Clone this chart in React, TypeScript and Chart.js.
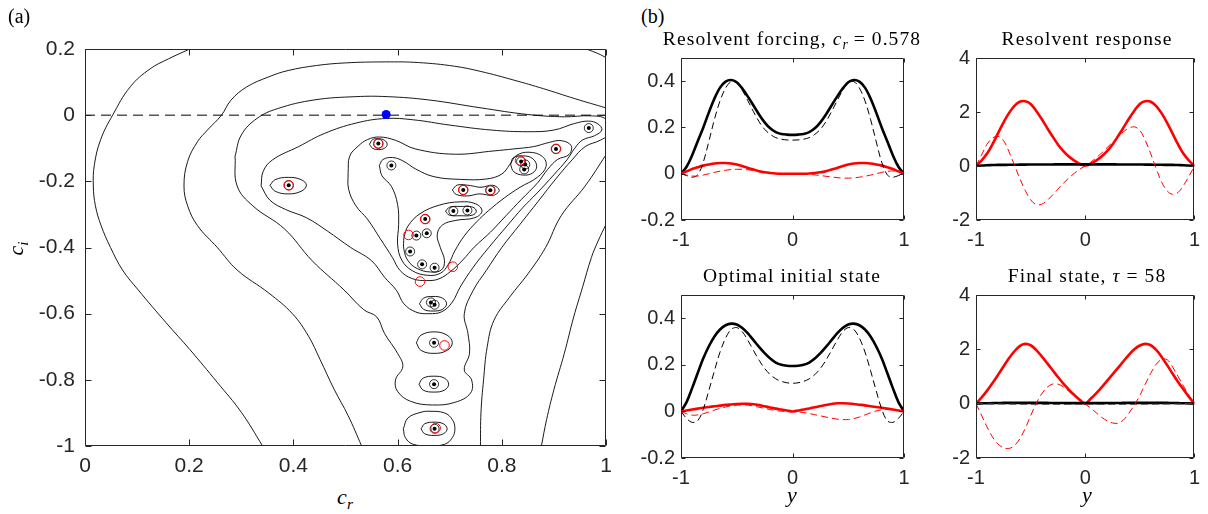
import React, { useEffect, useRef } from 'react';
import { Chart, registerables } from 'chart.js';
Chart.register(...registerables);

type Pt = [number, number];

// ---------- panel (a): pseudospectrum contours ----------
const aXTicks = [0, 0.2, 0.4, 0.6, 0.8, 1];
const aYTicks = [-1, -0.8, -0.6, -0.4, -0.2, 0, 0.2];

const contour1a: Pt[] = [[0.201,0.2],[0.16,0.17],[0.125,0.14],[0.087,0.086],[0.053,0.0],[0.030,-0.074],[0.018,-0.15],[0.016,-0.214],[0.02,-0.274],[0.031,-0.334],[0.049,-0.4],[0.072,-0.468],[0.102,-0.528],[0.156,-0.628],[0.201,-0.708],[0.254,-0.808],[0.300,-0.898],[0.341,-1.0]];
const contour1b: Pt[] = [[0.962,0.2],[0.985,0.186],[1.0,0.174]];
const contour1c: Pt[] = [[1.0,-0.33],[0.985,-0.38],[0.972,-0.43],[0.955,-0.52],[0.938,-0.61],[0.92,-0.72],[0.9,-0.83],[0.886,-0.92],[0.876,-1.0]];
const contour2a: Pt[] = [[1.0,0.022],[0.94,0.05],[0.88,0.08],[0.823,0.106],[0.76,0.132],[0.709,0.148],[0.64,0.159],[0.577,0.161],[0.5,0.158],[0.444,0.15],[0.39,0.135],[0.353,0.116],[0.31,0.085],[0.28,0.045],[0.262,0.0],[0.235,-0.045],[0.216,-0.08],[0.197,-0.14],[0.19,-0.214],[0.197,-0.274],[0.216,-0.334],[0.254,-0.4],[0.292,-0.468],[0.353,-0.538],[0.398,-0.6],[0.429,-0.668],[0.451,-0.738],[0.478,-0.828],[0.505,-0.908],[0.531,-1.0]];
const contour2b: Pt[] = [[1.0,-0.12],[0.96,-0.214],[0.914,-0.304],[0.884,-0.4],[0.85,-0.48],[0.815,-0.55],[0.785,-0.62],[0.772,-0.7],[0.765,-0.8],[0.76,-0.9],[0.759,-1.0]];
const contour3: Pt[] = [[0.288,-0.124],[0.3,-0.06],[0.33,-0.01],[0.37,0.02],[0.44,0.046],[0.52,0.056],[0.58,0.056],[0.66,0.046],[0.76,0.022],[0.85,0.002],[0.92,-0.005],[0.97,-0.002],[1.0,-0.012],[1.01,-0.05],[0.99,-0.075],[0.96,-0.095],[0.935,-0.135],[0.905,-0.19],[0.87,-0.26],[0.835,-0.33],[0.8,-0.4],[0.77,-0.47],[0.745,-0.53],[0.728,-0.6],[0.735,-0.66],[0.738,-0.72],[0.728,-0.77],[0.742,-0.8],[0.74,-0.84],[0.71,-0.868],[0.667,-0.876],[0.625,-0.865],[0.6,-0.835],[0.596,-0.8],[0.61,-0.76],[0.6,-0.72],[0.575,-0.66],[0.56,-0.61],[0.535,-0.588],[0.497,-0.528],[0.436,-0.44],[0.383,-0.344],[0.322,-0.274],[0.292,-0.214],[0.288,-0.124]];
const contour4: Pt[] = [[0.338,-0.214],[0.342,-0.17],[0.36,-0.135],[0.41,-0.095],[0.46,-0.055],[0.52,-0.024],[0.577,-0.01],[0.63,-0.014],[0.7,-0.03],[0.78,-0.045],[0.85,-0.05],[0.9,-0.045],[0.94,-0.025],[0.967,-0.018],[0.985,-0.027],[0.992,-0.045],[0.978,-0.062],[0.955,-0.075],[0.94,-0.1],[0.925,-0.135],[0.9,-0.18],[0.868,-0.235],[0.84,-0.28],[0.81,-0.335],[0.775,-0.4],[0.745,-0.46],[0.72,-0.52],[0.705,-0.565],[0.685,-0.594],[0.66,-0.6],[0.635,-0.595],[0.612,-0.57],[0.598,-0.53],[0.575,-0.49],[0.55,-0.44],[0.51,-0.4],[0.465,-0.35],[0.425,-0.31],[0.385,-0.285],[0.355,-0.257],[0.338,-0.214]];
const contour5: Pt[] = [[0.505,-0.174],[0.508,-0.124],[0.524,-0.094],[0.542,-0.074],[0.565,-0.066],[0.596,-0.076],[0.634,-0.102],[0.709,-0.118],[0.785,-0.108],[0.823,-0.102],[0.861,-0.095],[0.892,-0.082],[0.914,-0.077],[0.933,-0.092],[0.929,-0.119],[0.907,-0.134],[0.888,-0.164],[0.869,-0.204],[0.838,-0.254],[0.808,-0.304],[0.778,-0.354],[0.747,-0.399],[0.725,-0.438],[0.702,-0.472],[0.679,-0.495],[0.656,-0.5],[0.628,-0.494],[0.605,-0.47],[0.59,-0.43],[0.567,-0.374],[0.542,-0.314],[0.52,-0.274],[0.506,-0.224],[0.505,-0.174]];
const contour6: Pt[] = [[0.565,-0.152],[0.572,-0.134],[0.59,-0.128],[0.61,-0.138],[0.635,-0.163],[0.67,-0.186],[0.72,-0.194],[0.77,-0.193],[0.8,-0.178],[0.815,-0.15],[0.828,-0.122],[0.852,-0.112],[0.878,-0.125],[0.885,-0.155],[0.868,-0.188],[0.835,-0.218],[0.805,-0.25],[0.775,-0.288],[0.752,-0.322],[0.728,-0.365],[0.71,-0.41],[0.697,-0.452],[0.682,-0.478],[0.657,-0.484],[0.628,-0.47],[0.608,-0.438],[0.6,-0.39],[0.602,-0.33],[0.6,-0.27],[0.588,-0.215],[0.57,-0.183],[0.565,-0.152]];
const contour7: Pt[] = [[0.612,-0.37],[0.62,-0.335],[0.643,-0.298],[0.68,-0.272],[0.72,-0.262],[0.75,-0.268],[0.762,-0.29],[0.748,-0.31],[0.712,-0.318],[0.686,-0.332],[0.676,-0.362],[0.682,-0.4],[0.69,-0.44],[0.684,-0.468],[0.663,-0.474],[0.638,-0.464],[0.62,-0.44],[0.612,-0.405],[0.612,-0.37]];
const loopLeftEar: Pt[] = [[0.355,-0.212],[0.365,-0.195],[0.39,-0.188],[0.415,-0.195],[0.425,-0.212],[0.415,-0.23],[0.39,-0.238],[0.365,-0.23],[0.355,-0.212]];
const loopTopEar: Pt[] = [[0.546,-0.088],[0.552,-0.074],[0.563,-0.071],[0.575,-0.076],[0.58,-0.088],[0.575,-0.1],[0.563,-0.104],[0.552,-0.1],[0.546,-0.088]];
const loopPair: Pt[] = [[0.705,-0.226],[0.715,-0.211],[0.74,-0.213],[0.76,-0.218],[0.783,-0.212],[0.795,-0.227],[0.784,-0.242],[0.757,-0.238],[0.735,-0.244],[0.713,-0.24],[0.705,-0.226]];
const loopPair2: Pt[] = [[0.692,-0.29],[0.7,-0.278],[0.72,-0.276],[0.744,-0.278],[0.751,-0.29],[0.744,-0.302],[0.72,-0.304],[0.699,-0.302],[0.692,-0.29]];
const loopTriple: Pt[] = [[0.817,-0.15],[0.822,-0.129],[0.84,-0.123],[0.859,-0.131],[0.867,-0.155],[0.859,-0.175],[0.841,-0.181],[0.823,-0.171],[0.817,-0.15]];
const loopEye56: Pt[] = [[0.642,-0.57],[0.65,-0.553],[0.668,-0.548],[0.686,-0.553],[0.694,-0.57],[0.686,-0.587],[0.668,-0.592],[0.65,-0.587],[0.642,-0.57]];
const loopEye69: Pt[] = [[0.636,-0.688],[0.645,-0.665],[0.67,-0.655],[0.695,-0.665],[0.705,-0.688],[0.695,-0.711],[0.67,-0.72],[0.645,-0.711],[0.636,-0.688]];
const loopEye82: Pt[] = [[0.641,-0.813],[0.649,-0.795],[0.67,-0.789],[0.69,-0.795],[0.698,-0.813],[0.69,-0.831],[0.67,-0.837],[0.649,-0.831],[0.641,-0.813]];
const loopEye95: Pt[] = [[0.645,-0.948],[0.652,-0.933],[0.67,-0.928],[0.688,-0.933],[0.695,-0.948],[0.688,-0.963],[0.67,-0.968],[0.652,-0.963],[0.645,-0.948]];
const loopBottom: Pt[] = [[0.611,-0.948],[0.62,-0.915],[0.645,-0.898],[0.66,-0.895],[0.69,-0.9],[0.705,-0.92],[0.71,-0.948],[0.705,-0.975],[0.69,-0.995],[0.66,-1.0],[0.63,-0.995],[0.615,-0.975],[0.611,-0.948]];

const eigenCr = [0.391,0.563,0.588,0.726,0.778,0.837,0.845,0.843,0.904,0.967,0.707,0.734,0.653,0.636,0.656,0.624,0.647,0.671,0.664,0.671,0.670,0.670,0.671];
const eigenCi = [-0.212,-0.086,-0.152,-0.226,-0.227,-0.140,-0.149,-0.164,-0.102,-0.039,-0.290,-0.288,-0.314,-0.364,-0.357,-0.412,-0.451,-0.461,-0.566,-0.573,-0.688,-0.813,-0.948];
const optimalCr = [0.391,0.563,0.726,0.778,0.835,0.904,0.653,0.621,0.706,0.643,0.690,0.673];
const optimalCi = [-0.212,-0.086,-0.226,-0.227,-0.137,-0.102,-0.314,-0.362,-0.458,-0.503,-0.696,-0.946];
const chosenCr = [0.578];
const chosenCi = [0.002];
const neutralLine: Pt[] = [[0, 0], [1, 0]];

// ---------- panel (b): profiles over y ----------
const yGrid = [-1,-0.95,-0.9,-0.85,-0.8,-0.75,-0.7,-0.65,-0.6,-0.55,-0.5,-0.45,-0.4,-0.35,-0.3,-0.25,-0.2,-0.15,-0.1,-0.05,0,0.05,0.1,0.15,0.2,0.25,0.3,0.35,0.4,0.45,0.5,0.55,0.6,0.65,0.7,0.75,0.8,0.85,0.9,0.95,1];
const smallXTicks = [-1, 0, 1];
const smallYTicksU = [-0.2, 0, 0.2, 0.4];
const smallYTicksV = [-2, 0, 2, 4];

const forcingU = [0,0.03,0.08,0.14,0.2,0.265,0.325,0.372,0.398,0.405,0.395,0.368,0.333,0.295,0.256,0.222,0.196,0.18,0.172,0.169,0.168,0.169,0.172,0.18,0.196,0.222,0.256,0.295,0.333,0.368,0.395,0.405,0.398,0.372,0.325,0.265,0.2,0.14,0.08,0.03,0];
const forcingUd = [0,-0.008,-0.015,-0.005,0.05,0.14,0.235,0.315,0.37,0.398,0.392,0.36,0.315,0.268,0.225,0.192,0.17,0.156,0.149,0.146,0.145,0.146,0.149,0.156,0.17,0.192,0.225,0.268,0.315,0.36,0.392,0.398,0.37,0.315,0.235,0.14,0.05,-0.005,-0.015,-0.008,0];
const forcingV = [0,0.01,0.02,0.028,0.035,0.04,0.044,0.046,0.046,0.044,0.04,0.033,0.025,0.018,0.011,0.006,0.003,0.001,0,0,0,0,0,0.001,0.003,0.006,0.011,0.018,0.025,0.033,0.04,0.044,0.046,0.046,0.044,0.04,0.035,0.028,0.02,0.01,0];
const forcingVd = [0,-0.006,-0.01,-0.01,-0.006,0,0.006,0.011,0.015,0.018,0.019,0.019,0.017,0.014,0.011,0.008,0.005,0.003,0.001,0,0,0,-0.001,-0.003,-0.005,-0.008,-0.011,-0.014,-0.017,-0.019,-0.019,-0.018,-0.015,-0.011,-0.006,0,0.006,0.01,0.012,0.008,0];

const responseU = [0,0.02,0.03,0.035,0.04,0.042,0.045,0.047,0.05,0.052,0.054,0.055,0.056,0.057,0.058,0.059,0.06,0.06,0.06,0.06,0.06,0.06,0.06,0.06,0.06,0.059,0.058,0.057,0.056,0.055,0.054,0.052,0.05,0.047,0.045,0.042,0.04,0.035,0.03,0.02,0];
const responseV = [0,0.2,0.45,0.8,1.2,1.6,1.95,2.22,2.38,2.4,2.3,2.05,1.75,1.42,1.1,0.8,0.55,0.35,0.2,0.08,0.02,0.08,0.2,0.35,0.55,0.8,1.1,1.42,1.75,2.05,2.3,2.4,2.38,2.22,1.95,1.6,1.2,0.8,0.45,0.2,0];
const responseVd = [0,0.4,0.8,1.03,1.1,0.95,0.55,0.05,-0.45,-0.9,-1.25,-1.43,-1.42,-1.28,-1.08,-0.86,-0.64,-0.44,-0.27,-0.12,0,0.14,0.3,0.48,0.68,0.88,1.08,1.27,1.4,1.45,1.32,0.95,0.45,-0.1,-0.6,-0.92,-1.05,-0.98,-0.72,-0.38,0];

const initialU = [0,0.04,0.1,0.165,0.228,0.28,0.322,0.352,0.37,0.377,0.373,0.358,0.335,0.306,0.277,0.25,0.227,0.21,0.2,0.196,0.195,0.196,0.2,0.21,0.227,0.25,0.277,0.306,0.335,0.358,0.373,0.377,0.37,0.352,0.322,0.28,0.228,0.165,0.1,0.04,0];
const initialUd = [0,-0.03,-0.047,-0.04,0.01,0.09,0.175,0.255,0.315,0.352,0.36,0.342,0.305,0.262,0.22,0.185,0.158,0.14,0.129,0.123,0.121,0.123,0.129,0.14,0.158,0.185,0.22,0.262,0.305,0.342,0.36,0.352,0.315,0.255,0.175,0.09,0.01,-0.04,-0.047,-0.03,0];
const initialV = [0,0.004,0.008,0.012,0.016,0.019,0.022,0.025,0.028,0.03,0.032,0.033,0.033,0.031,0.027,0.022,0.017,0.012,0.008,0.004,0,0.004,0.008,0.013,0.018,0.023,0.028,0.032,0.035,0.035,0.034,0.032,0.029,0.026,0.022,0.019,0.016,0.012,0.008,0.004,0];
const initialVd = [0,-0.01,-0.016,-0.015,-0.01,-0.002,0.006,0.013,0.019,0.024,0.027,0.028,0.027,0.023,0.018,0.013,0.008,0.004,0.001,0,0,-0.002,-0.005,-0.009,-0.014,-0.019,-0.024,-0.029,-0.033,-0.035,-0.035,-0.031,-0.024,-0.015,-0.006,0.002,0.007,0.009,0.008,0.004,0];

const finalU = [0,0.01,0.015,0.02,0.025,0.028,0.03,0.03,0.03,0.03,0.03,0.03,0.03,0.028,0.026,0.024,0.022,0.02,0.02,0.02,0.02,0.02,0.02,0.02,0.022,0.024,0.026,0.028,0.03,0.03,0.03,0.03,0.03,0.03,0.03,0.028,0.025,0.02,0.015,0.01,0];
const finalUd = [0,-0.005,-0.01,-0.012,-0.015,-0.018,-0.02,-0.022,-0.024,-0.025,-0.026,-0.027,-0.028,-0.029,-0.03,-0.03,-0.03,-0.03,-0.03,-0.03,-0.03,-0.03,-0.03,-0.03,-0.03,-0.03,-0.03,-0.029,-0.028,-0.027,-0.026,-0.025,-0.024,-0.022,-0.02,-0.018,-0.015,-0.012,-0.01,-0.005,0];
const finalV = [0,0.22,0.47,0.75,1.05,1.36,1.66,1.92,2.12,2.2,2.15,1.98,1.75,1.5,1.24,0.98,0.74,0.52,0.32,0.14,0,0.18,0.38,0.6,0.84,1.08,1.32,1.56,1.8,2.0,2.14,2.2,2.15,1.98,1.72,1.42,1.1,0.8,0.52,0.25,0];
const finalVd = [0,-0.42,-0.85,-1.22,-1.48,-1.62,-1.65,-1.55,-1.3,-0.92,-0.45,0.0,0.35,0.6,0.72,0.72,0.62,0.45,0.28,0.12,-0.02,-0.16,-0.33,-0.5,-0.63,-0.71,-0.72,-0.6,-0.35,-0.05,0.3,0.72,1.12,1.45,1.63,1.62,1.35,1.0,0.65,0.3,0];

// ---------- styling ----------
const INK = '#262626';
const RED = '#ff0000';
const SANS = '"Liberation Sans", Arial, Helvetica, sans-serif';

const fmt = (v: number) => String(Math.round(v * 10) / 10);

const framePlugin = {
  id: 'frame',
  afterDatasetsDraw(chart: any, _args: any, opts: any) {
    const { ctx, chartArea } = chart;
    const xs = chart.scales.x;
    const ys = chart.scales.y;
    const L = (opts && opts.tickLen) || 5;
    const l = Math.round(chartArea.left) + 0.5;
    const r = Math.round(chartArea.right) - 0.5;
    const t = Math.round(chartArea.top) + 0.5;
    const b = Math.round(chartArea.bottom) - 0.5;
    ctx.save();
    ctx.setLineDash([]);
    ctx.strokeStyle = INK;
    ctx.lineWidth = 1;
    ctx.beginPath();
    ctx.rect(l, t, r - l, b - t);
    xs.ticks.forEach((tk: any) => {
      const p = Math.round(xs.getPixelForValue(tk.value)) + 0.5;
      ctx.moveTo(p, b); ctx.lineTo(p, b - L);
      ctx.moveTo(p, t); ctx.lineTo(p, t + L);
    });
    ys.ticks.forEach((tk: any) => {
      const p = Math.round(ys.getPixelForValue(tk.value)) + 0.5;
      ctx.moveTo(l, p); ctx.lineTo(l + L, p);
      ctx.moveTo(r, p); ctx.lineTo(r - L, p);
    });
    ctx.stroke();
    ctx.restore();
  },
};

const toXY = (pts: Pt[]) => pts.map(([x, y]) => ({ x, y }));
const zipXY = (xs: number[], ys: number[]) => xs.map((x, i) => ({ x, y: ys[i] }));

function axis(min: number, max: number, ticks: number[], size: number, pad: number, fit: (s: any) => void) {
  return {
    type: 'linear' as const,
    min, max,
    grid: { display: false, drawTicks: false },
    border: { display: false },
    ticks: { color: INK, padding: pad, font: { family: SANS, size }, callback: (v: any) => fmt(Number(v)), maxRotation: 0, autoSkip: false },
    afterBuildTicks: (s: any) => { s.ticks = ticks.map((v) => ({ value: v })); },
    afterFit: fit,
  };
}

function contourDs(pts: Pt[], extra: any = {}) {
  return { data: toXY(pts), showLine: true, borderColor: '#000', borderWidth: 0.9, pointRadius: 0, tension: 0.4, fill: false, ...extra };
}

function buildPanelA(canvas: HTMLCanvasElement) {
  const contours = [contour1a, contour1b, contour1c, contour2a, contour2b, contour3, contour4, contour5, contour6, contour7,
    loopLeftEar, loopTopEar, loopPair, loopPair2, loopTriple, loopEye56, loopEye69, loopEye82, loopEye95, loopBottom];
  return new Chart(canvas, {
    type: 'scatter',
    data: {
      datasets: [
        { data: zipXY(chosenCr, chosenCi), pointRadius: 4.5, pointBackgroundColor: '#0000ff', pointBorderColor: '#0000ff', pointBorderWidth: 0 },
        { data: zipXY(optimalCr, optimalCi), pointRadius: 4.8, pointBackgroundColor: 'rgba(0,0,0,0)', pointBorderColor: RED, pointBorderWidth: 1 },
        { data: zipXY(eigenCr, eigenCi), pointRadius: 2, pointBackgroundColor: '#000', pointBorderColor: '#000', pointBorderWidth: 0 },
        { data: zipXY(eigenCr, eigenCi), pointRadius: 4.5, pointBackgroundColor: 'rgba(0,0,0,0)', pointBorderColor: '#000', pointBorderWidth: 0.8 },
        contourDs(neutralLine, { tension: 0, borderDash: [10, 6], borderWidth: 1 }),
        ...contours.map((c) => contourDs(c)),
      ] as any,
    },
    options: {
      responsive: false,
      animation: false,
      events: [],
      layout: { padding: { top: 49, right: 14, left: 0, bottom: 0 } },
      plugins: { legend: { display: false }, tooltip: { enabled: false }, frame: { tickLen: 6 } } as any,
      scales: {
        x: axis(0, 1, aXTicks, 21, 8, (s: any) => { s.height = 34; }),
        y: axis(-1, 0.2, aYTicks, 21, 10, (s: any) => { s.width = 85; }),
      },
    },
    plugins: [framePlugin],
  });
}

function buildSmall(canvas: HTMLCanvasElement, yMin: number, yMax: number, yTicks: number[], series: { v: number[]; color: string; dashed: boolean }[], yWidth: number, xHeight: number, rightPad: number) {
  return new Chart(canvas, {
    type: 'scatter',
    data: {
      datasets: series.map((s) => ({
        data: zipXY(yGrid, s.v),
        showLine: true,
        borderColor: s.color,
        borderWidth: s.dashed ? 1 : 2.6,
        borderDash: s.dashed ? [7, 4] : [],
        pointRadius: 0,
        tension: 0.35,
        fill: false,
      })) as any,
    },
    options: {
      responsive: false,
      animation: false,
      events: [],
      layout: { padding: { top: 16, right: rightPad, left: 0, bottom: 0 } },
      plugins: { legend: { display: false }, tooltip: { enabled: false }, frame: { tickLen: 4 } } as any,
      scales: {
        x: axis(-1, 1, smallXTicks, 20, 8, (s: any) => { s.height = xHeight; }),
        y: axis(yMin, yMax, yTicks, 20, 6, (s: any) => { s.width = yWidth; }),
      },
    },
    plugins: [framePlugin],
  });
}

const serif = '"Liberation Serif", "Times New Roman", serif';

const Sub = ({ s }: { s: string }) => (<sub style={{ fontSize: '70%', verticalAlign: '-0.3em', letterSpacing: 0 }}><i>{s}</i></sub>);

export default function App() {
  const refA = useRef<HTMLCanvasElement>(null);
  const ref1 = useRef<HTMLCanvasElement>(null);
  const ref2 = useRef<HTMLCanvasElement>(null);
  const ref3 = useRef<HTMLCanvasElement>(null);
  const ref4 = useRef<HTMLCanvasElement>(null);

  useEffect(() => {
    const charts: Chart[] = [];
    charts.push(buildPanelA(refA.current!));
    charts.push(buildSmall(ref1.current!, -0.2, 0.5, smallYTicksU, [
      { v: forcingVd, color: RED, dashed: true },
      { v: forcingUd, color: '#000', dashed: true },
      { v: forcingV, color: RED, dashed: false },
      { v: forcingU, color: '#000', dashed: false },
    ], 61, 35, 16));
    charts.push(buildSmall(ref2.current!, -2, 4, smallYTicksV, [
      { v: responseVd, color: RED, dashed: true },
      { v: responseU, color: '#000', dashed: false },
      { v: responseV, color: RED, dashed: false },
    ], 61, 35, 9));
    charts.push(buildSmall(ref3.current!, -0.2, 0.5, smallYTicksU, [
      { v: initialVd, color: RED, dashed: true },
      { v: initialUd, color: '#000', dashed: true },
      { v: initialV, color: RED, dashed: false },
      { v: initialU, color: '#000', dashed: false },
    ], 61, 34, 16));
    charts.push(buildSmall(ref4.current!, -2, 4, smallYTicksV, [
      { v: finalVd, color: RED, dashed: true },
      { v: finalUd, color: '#555', dashed: true },
      { v: finalU, color: '#000', dashed: false },
      { v: finalV, color: RED, dashed: false },
    ], 61, 34, 9));
    return () => charts.forEach((c) => c.destroy());
  }, []);

  const txt = (style: React.CSSProperties): React.CSSProperties => ({ position: 'absolute', fontFamily: serif, color: '#000', whiteSpace: 'nowrap', lineHeight: 1, ...style });
  const title = (left: number, top: number): React.CSSProperties => txt({ left, top, width: 400, fontSize: 19.5, letterSpacing: 1.1, textAlign: 'center' });

  return (
    <div style={{ position: 'fixed', left: 0, top: 0, width: 1208, height: 514, background: '#fff', overflow: 'hidden' }}>
      <canvas ref={refA} width={620} height={480} style={{ position: 'absolute', left: 0, top: 0 }} />
      <canvas ref={ref1} width={300} height={215} style={{ position: 'absolute', left: 620, top: 40 }} />
      <canvas ref={ref2} width={293} height={215} style={{ position: 'absolute', left: 915, top: 40 }} />
      <canvas ref={ref3} width={300} height={215} style={{ position: 'absolute', left: 620, top: 277 }} />
      <canvas ref={ref4} width={293} height={215} style={{ position: 'absolute', left: 915, top: 277 }} />

      <div style={txt({ left: 8, top: 6, fontSize: 20 })}>(a)</div>
      <div style={txt({ left: 641, top: 6, fontSize: 20 })}>(b)</div>

      <div style={title(592, 29)}>Resolvent forcing, <i>c</i><Sub s="r" /> = 0.578</div>
      <div style={title(887, 29)}>Resolvent response</div>
      <div style={title(592, 266)}>Optimal initial state</div>
      <div style={title(887, 266)}>Final state, <i>τ</i> = 58</div>

      <div style={txt({ left: 245, width: 200, top: 486, fontSize: 22, textAlign: 'center' })}><i>c</i><Sub s="r" /></div>
      <div style={txt({ left: 692, width: 200, top: 484, fontSize: 22, textAlign: 'center' })}><i>y</i></div>
      <div style={txt({ left: 987, width: 200, top: 484, fontSize: 22, textAlign: 'center' })}><i>y</i></div>
      <div style={txt({ left: -82, width: 200, top: 236, fontSize: 22, textAlign: 'center', transform: 'rotate(-90deg)' })}><i>c</i><Sub s="i" /></div>
    </div>
  );
}
